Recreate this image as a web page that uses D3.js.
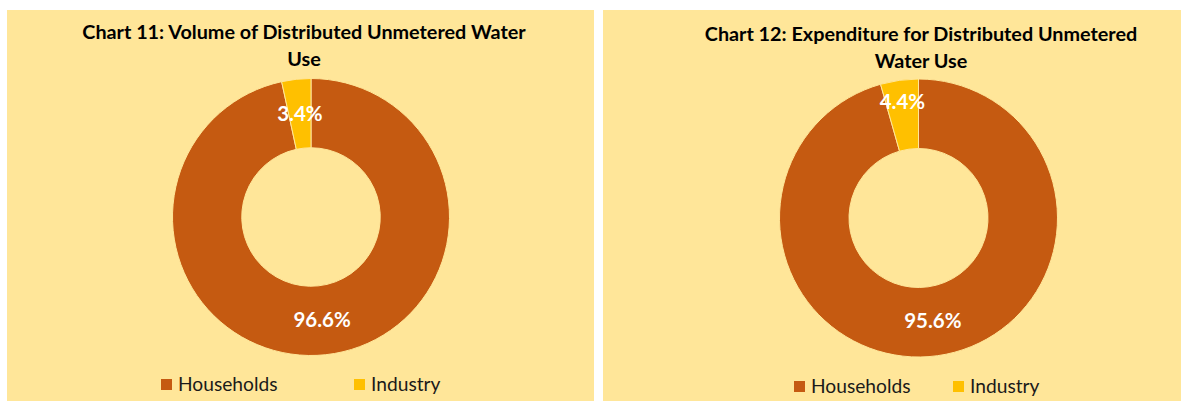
<!DOCTYPE html>
<html>
<head>
<script src="https://d3js.org/d3.v7.min.js"></script>
<style>
  body { margin: 0; padding: 0; background: #fff; }
  svg { display: block; }
  .title { font-family: Lato, "Open Sans", sans-serif; font-weight: bold; font-size: 19.8px; fill: #000; }
  .pct { font-family: Lato, "Open Sans", sans-serif; font-weight: bold; font-size: 20.5px; fill: #fff; }
  .legend text { font-family: Lato, "Open Sans", sans-serif; font-size: 19.2px; fill: #1a1a1a; }
</style>
</head>
<body>
<script>
// data
var categories = ["Households", "Industry"];
var volumeShares = [96.6, 3.4];
var expenditureShares = [95.6, 4.4];
var chartTitles = [
  ["Chart 11: Volume of Distributed Unmetered Water", "Use"],
  ["Chart 12: Expenditure for Distributed Unmetered", "Water Use"]
];

var width = 1181, height = 401;
var bg = "#FFE699";
var color = d3.scaleOrdinal().domain(categories).range(["#C55A11", "#FFC000"]);

var svg = d3.select("body").append("svg")
  .attr("width", width)
  .attr("height", height);

// panel layout
var panels = [
  { x: 7, w: 587, cx: 311, cy: 217, r: 138.5, titleX: 304, titleY: 39, legendX: 161, legendY: 379, industryLegendX: 354, values: volumeShares, title: chartTitles[0], smallLabelR: 104 },
  { x: 603, w: 578, cx: 918.5, cy: 218, r: 139, titleX: 921, titleY: 41, legendX: 794, legendY: 381, industryLegendX: 953, values: expenditureShares, title: chartTitles[1], smallLabelR: 117 }
];

var pie = d3.pie().sort(null).value(function(d) { return d; });

panels.forEach(function(p) {
  var g = svg.append("g");

  g.append("rect")
    .attr("x", p.x).attr("y", 10)
    .attr("width", p.w).attr("height", height - 10)
    .attr("fill", bg);

  var t = g.append("text").attr("class", "title")
    .attr("x", p.titleX).attr("y", p.titleY)
    .attr("text-anchor", "middle");
  p.title.forEach(function(line, i) {
    t.append("tspan").attr("x", p.titleX).attr("dy", i ? 27 : 0).text(line);
  });

  var arc = d3.arc().innerRadius(p.r * 0.5).outerRadius(p.r);
  var arcs = pie(p.values);
  var donut = g.append("g").attr("transform", "translate(" + p.cx + "," + p.cy + ")");

  donut.selectAll("path")
    .data(arcs)
    .enter().append("path")
    .attr("d", arc)
    .attr("fill", function(d, i) { return color(categories[i]); })
    .attr("stroke", bg)
    .attr("stroke-width", 1);

  donut.selectAll("text")
    .data(arcs)
    .enter().append("text")
    .attr("class", "pct")
    .attr("transform", function(d, i) {
      var lr = i === 1 ? p.smallLabelR : p.r * 0.75;
      var c = d3.arc().innerRadius(lr).outerRadius(lr).centroid(d);
      return "translate(" + c[0] + "," + c[1] + ")";
    })
    .attr("text-anchor", "middle")
    .attr("dy", "0.35em")
    .text(function(d) { return d3.format(".1f")(d.data) + "%"; });

  var legend = g.append("g").attr("class", "legend");
  var lx = [p.legendX, p.industryLegendX];
  categories.forEach(function(c, i) {
    legend.append("rect")
      .attr("x", lx[i]).attr("y", p.legendY)
      .attr("width", 11).attr("height", 11)
      .attr("fill", color(c));
    legend.append("text")
      .attr("x", lx[i] + 17).attr("y", p.legendY + 12)
      .text(c);
  });
});
</script>
</body>
</html>
